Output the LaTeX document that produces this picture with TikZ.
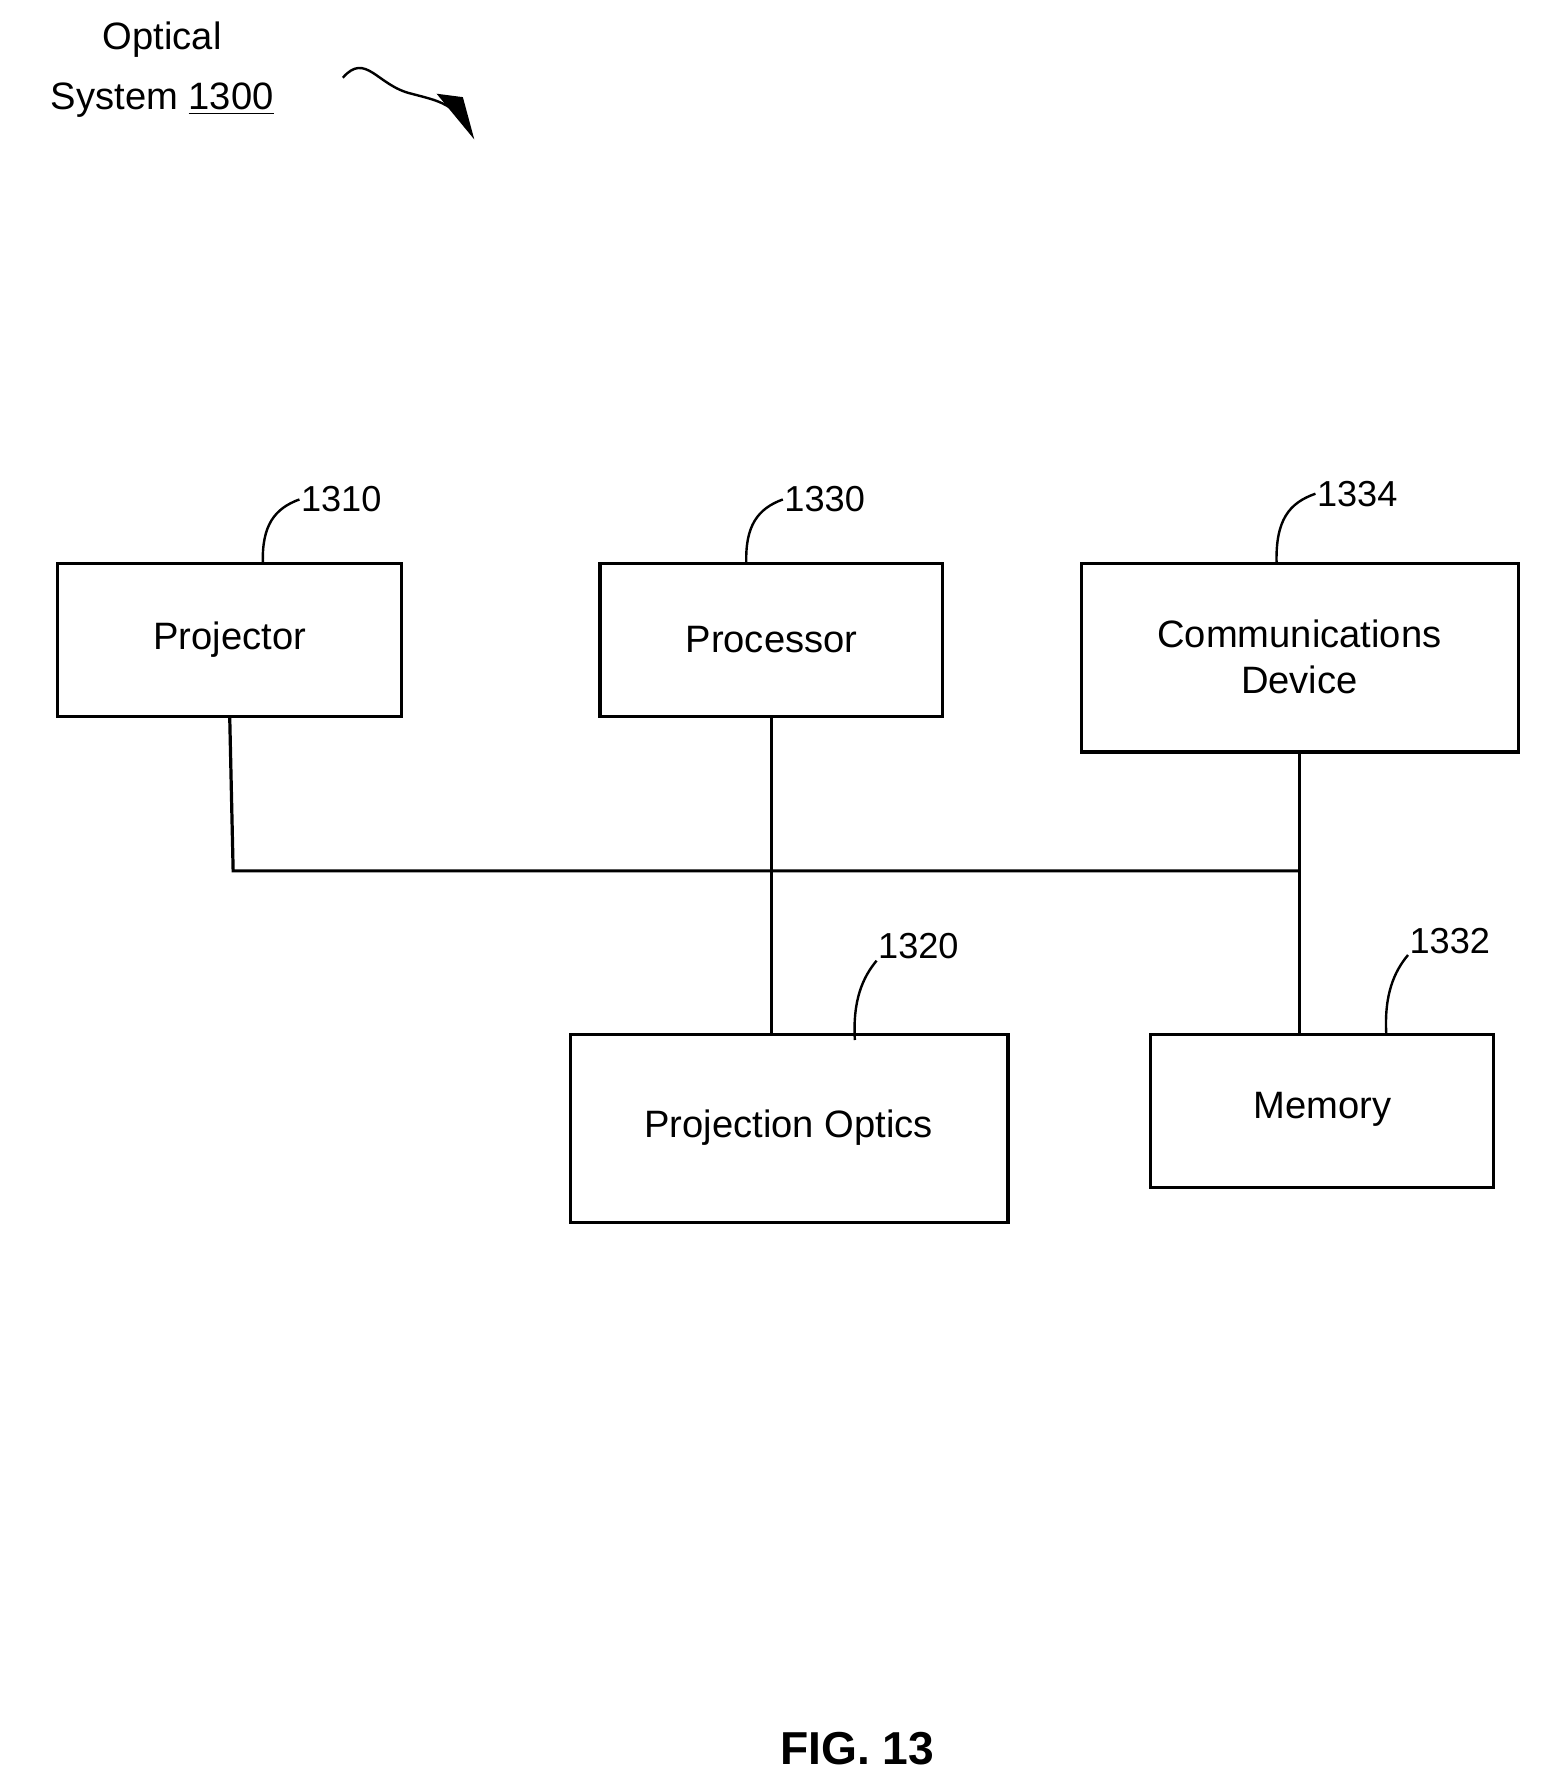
\documentclass[tikz,border=0pt]{standalone}
\usepackage{fontspec}
\setmainfont{Liberation Sans}
\begin{document}
\begin{tikzpicture}[x=0.02cm,y=-0.02cm,line width=1.6pt,
 box/.style={draw,minimum width=#1,inner sep=0pt},
 txt/.style={font=\fontsize{19}{23}\selectfont,align=center},
 lab/.style={font=\fontsize{18}{22}\selectfont,inner sep=0pt,anchor=west},
 lead/.style={line width=1.2pt}]
\useasboundingbox (0,0) rectangle (1355,1568);
\draw[box] (50,493) rectangle (351,627); \node[txt] (p) at (201,560) {Projector};
\draw[box] (525,493) rectangle (825,627); \node[txt] (pr) at (675,560) {Processor};
\draw[box] (946,493) rectangle (1329,658); \node[txt] (c) at (1137,575) {Communications\\Device};
\draw[box] (499,905) rectangle (882,1070); \node[txt] (po) at (690,987) {Projection Optics};
\draw[box] (1007,905) rectangle (1307,1039); \node[txt] (m) at (1157,971) {Memory};
\coordinate (pb) at (201,627); \coordinate (b1) at (204,762); \coordinate (b2) at (1137,762);
\draw (pb) -- (b1) -- (b2);
\draw (675,627) -- (675,905);
\draw (1137,658) -- (1137,905);
\node[lab] (l1) at (262,437) {1310};
\draw[lead] (230,493) .. controls (229,460) and (240,445) .. (l1.west);
\node[lab] (l2) at (685,437) {1330};
\draw[lead] (653,493) .. controls (652,460) and (663,445) .. (l2.west);
\node[lab] (l3) at (1151,432) {1334};
\draw[lead] (1117,493) .. controls (1116,455) and (1128,440) .. (l3.west);
\node[lab] (l4) at (767,828) {1320};
\draw[lead] (748,910) .. controls (746,875) and (755,855) .. (l4.south west);
\node[lab] (l5) at (1232,823) {1332};
\draw[lead] (1213,905) .. controls (1211,870) and (1220,850) .. (l5.south west);
\node[txt] (t1) at (142,35) {Optical};
\node[txt] (t2) at (142,88) {System \underline{1300}};
\draw[lead] (300,68) .. controls (320,45) and (330,75) .. (360,82) .. controls (375,86) and (385,88) .. (395,95);
\fill (382,82) -- (415,122) -- (405,85) -- cycle;
\node[font=\bfseries\fontsize{23}{27}\selectfont] (f) at (750,1530) {FIG. 13};
\end{tikzpicture}
\end{document}
